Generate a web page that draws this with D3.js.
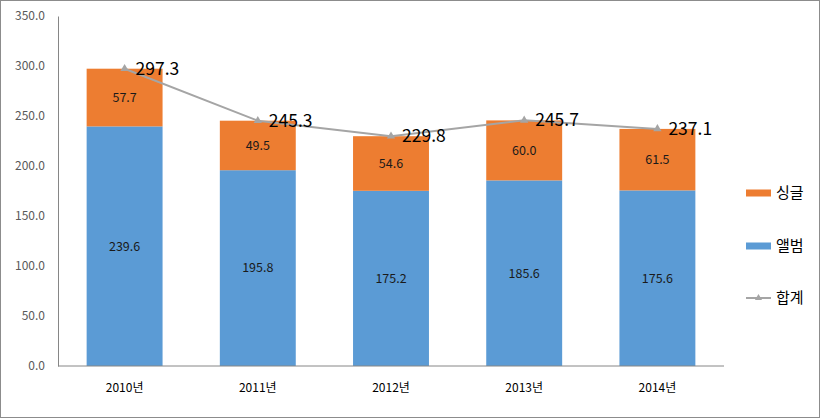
<!DOCTYPE html>
<html><head><meta charset="utf-8">
<script src="https://cdn.jsdelivr.net/npm/d3@7"></script>
<style>
body{margin:0;background:#fff;}
svg{display:block;}
text{font-family:"Noto Sans CJK KR","Noto Sans",sans-serif;}
</style></head>
<body>
<svg id="chart" width="821" height="419"></svg>
<script>
const categories = ["2010년","2011년","2012년","2013년","2014년"];
const albumValues = [239.6,195.8,175.2,185.6,175.6];
const singleValues = [57.7,49.5,54.6,60.0,61.5];
const totalValues = [297.3,245.3,229.8,245.7,237.1];
const yTicks = [0,50,100,150,200,250,300,350];
const seriesNames = ["싱글","앨범","합계"];

const colors = {single:"#ED7D31", album:"#5B9BD5", total:"#A5A5A5"};
const svg = d3.select("#chart");
const W = 821, H = 419;
const margin = {left:58, right:97, top:16, bottom:53};

svg.append("rect").attr("x",0.5).attr("y",0.5).attr("width",W-2).attr("height",H-2)
  .attr("fill","#fff").attr("stroke","#8c8c8c").attr("stroke-width",1);

const x = d3.scaleBand().domain(categories).range([margin.left, W - margin.right]).paddingInner(0.43).paddingOuter(0.215);
const y = d3.scaleLinear().domain([0,350]).range([H - margin.bottom, margin.top]);

const g = svg.append("g");

// bars
g.selectAll("rect.album").data(categories).join("rect").attr("class","album")
  .attr("x", d => x(d)).attr("width", x.bandwidth())
  .attr("y", (d,i) => y(albumValues[i])).attr("height", (d,i) => y(0) - y(albumValues[i]))
  .attr("fill", colors.album);
g.selectAll("rect.single").data(categories).join("rect").attr("class","single")
  .attr("x", d => x(d)).attr("width", x.bandwidth())
  .attr("y", (d,i) => y(albumValues[i] + singleValues[i])).attr("height", (d,i) => y(albumValues[i]) - y(albumValues[i] + singleValues[i]))
  .attr("fill", colors.single);

// axes
const yAxis = d3.axisLeft(y).tickValues(yTicks).tickFormat(d3.format(".1f")).tickSize(0).tickPadding(13);
const ya = g.append("g").attr("transform",`translate(${margin.left},0)`).call(yAxis);
ya.select(".domain").attr("stroke","#868686");
ya.selectAll("text").attr("font-size","12px").attr("fill","#595959");

const xAxis = d3.axisBottom(x).tickSize(0).tickPadding(17);
const xa = g.append("g").attr("transform",`translate(0,${y(0)})`).call(xAxis);
xa.select(".domain").attr("stroke","#868686").attr("d",`M${margin.left},0H${W - margin.right}`);
xa.selectAll("text").attr("font-size","12px").attr("fill","#000");

// segment labels
g.selectAll("text.albumLbl").data(categories).join("text").attr("class","albumLbl")
  .attr("x", d => x(d) + x.bandwidth()/2)
  .attr("y", (d,i) => (y(0) + y(albumValues[i]))/2).attr("dy","0.35em")
  .attr("text-anchor","middle").attr("font-size","12.5px").attr("fill","#1a1a1a")
  .text((d,i) => albumValues[i].toFixed(1));
g.selectAll("text.singleLbl").data(categories).join("text").attr("class","singleLbl")
  .attr("x", d => x(d) + x.bandwidth()/2)
  .attr("y", (d,i) => (y(albumValues[i]) + y(albumValues[i] + singleValues[i]))/2).attr("dy","0.35em")
  .attr("text-anchor","middle").attr("font-size","12.5px").attr("fill","#1a1a1a")
  .text((d,i) => singleValues[i].toFixed(1));

// total line
const cx = d => x(d) + x.bandwidth()/2;
const line = d3.line().x((d,i) => cx(categories[i])).y(d => y(d));
g.append("path").datum(totalValues).attr("d", line).attr("fill","none")
  .attr("stroke", colors.total).attr("stroke-width",2);
const tri = d3.symbol().type(d3.symbolTriangle).size(30);
g.selectAll("path.mk").data(totalValues).join("path").attr("class","mk")
  .attr("d", tri).attr("transform",(d,i) => `translate(${cx(categories[i])},${y(d)})`)
  .attr("fill", colors.total);
g.selectAll("text.totLbl").data(totalValues).join("text").attr("class","totLbl")
  .attr("x",(d,i) => cx(categories[i]) + 11).attr("y", d => y(d)).attr("dy","0.35em")
  .attr("font-size","17.5px").attr("fill","#000")
  .text(d => d.toFixed(1));

// legend
const lg = svg.append("g");
const ly = [193, 246, 298];
lg.append("rect").attr("x",746).attr("y",ly[0]-3.5).attr("width",25).attr("height",7).attr("fill",colors.single);
lg.append("rect").attr("x",746).attr("y",ly[1]-3.5).attr("width",25).attr("height",7).attr("fill",colors.album);
lg.append("line").attr("x1",746).attr("x2",771).attr("y1",ly[2]).attr("y2",ly[2]).attr("stroke",colors.total).attr("stroke-width",2);
lg.append("path").attr("d", d3.symbol().type(d3.symbolTriangle).size(22)).attr("transform",`translate(758.5,${ly[2]})`).attr("fill",colors.total);
lg.selectAll("text").data(seriesNames).join("text")
  .attr("x",776).attr("y",(d,i) => ly[i]).attr("dy","0.35em")
  .attr("font-size","15px").attr("fill","#000").text(d => d);
</script>
</body></html>
